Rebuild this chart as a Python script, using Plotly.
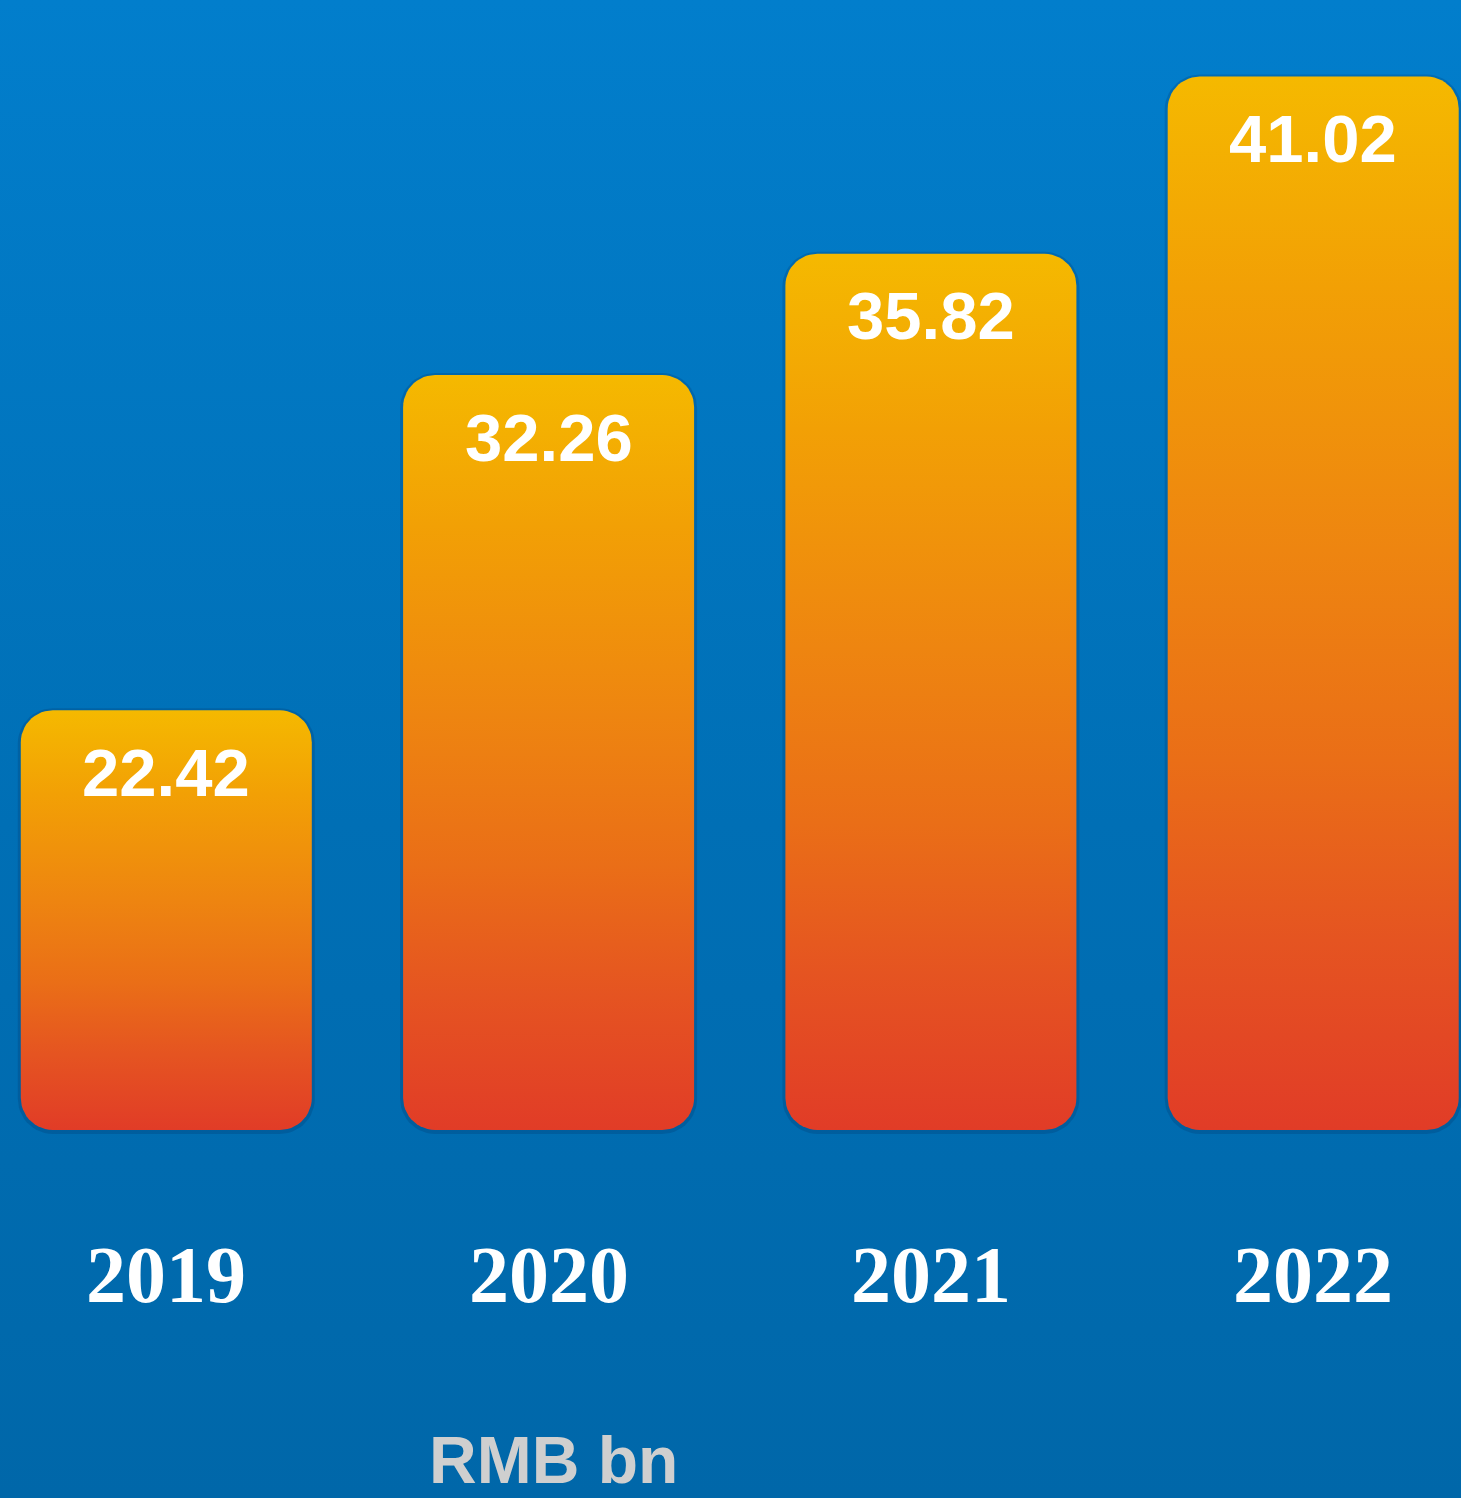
import numpy as np
import plotly.graph_objects as go

# ---- data -------------------------------------------------------------
years = ["2019", "2020", "2021", "2022"]
revenue_rmb_bn = [22.42, 32.26, 35.82, 41.02]
unit_label = "RMB bn"

# ---- canvas / scale settings -------------------------------------------
W, H = 1461, 1498
X_PX0, X_STEP = 166.3, 382.3          # pixel of first category, px per category
Y_FLOOR, Y_PX_FLOOR, Y_SCALE = 10.1, 1130.0, 34.07   # bar base value, its pixel row, px per unit

x_range = [-X_PX0 / X_STEP, (W - X_PX0) / X_STEP]
y_max = Y_FLOOR + Y_PX_FLOOR / Y_SCALE
y_range = [y_max - H / Y_SCALE, y_max]

BAR_W_PX = 291
CORNER_PX = 32
LABEL_OFFSET_PX = 62

BG_SCALE = [[0.0, "#0067A9"], [0.45, "#006FB5"], [1.0, "#027ECC"]]
BAR_SCALE = [[0.0, "#E13C27"], [0.18, "#E55421"], [0.35, "#EA6E17"],
             [0.55, "#EE8510"], [0.8, "#F2A005"], [1.0, "#F5B900"]]


def rounded_rect(xc, y0, y1, half_w, rx, ry, n=14):
    """Closed outline of a rectangle with rounded corners, in data units."""
    xs, ys = [], []
    corners = [
        (xc + half_w - rx, y1 - ry, 0, 90),
        (xc - half_w + rx, y1 - ry, 90, 180),
        (xc - half_w + rx, y0 + ry, 180, 270),
        (xc + half_w - rx, y0 + ry, 270, 360),
    ]
    for cx, cy, a0, a1 in corners:
        t = np.radians(np.linspace(a0, a1, n))
        xs.extend(cx + rx * np.cos(t))
        ys.extend(cy + ry * np.sin(t))
    xs.append(xs[0])
    ys.append(ys[0])
    return xs, ys


fig = go.Figure()

# background gradient panel
fig.add_trace(go.Scatter(
    x=[x_range[0], x_range[1], x_range[1], x_range[0], x_range[0]],
    y=[y_range[0], y_range[0], y_range[1], y_range[1], y_range[0]],
    mode="lines", line=dict(width=0), fill="toself",
    fillgradient=dict(type="vertical", colorscale=BG_SCALE),
    hoverinfo="skip", showlegend=False,
))

half_w = BAR_W_PX / 2 / X_STEP
rx = CORNER_PX / X_STEP
ry = CORNER_PX / Y_SCALE

for i, (yr, v) in enumerate(zip(years, revenue_rmb_bn)):
    # soft shadow under each bar
    sx, sy = rounded_rect(i, Y_FLOOR - 4 / Y_SCALE, v + 2 / Y_SCALE,
                          half_w + 3 / X_STEP, rx * 1.1, ry * 1.1)
    fig.add_trace(go.Scatter(
        x=sx, y=sy, mode="lines", line=dict(width=0), fill="toself",
        fillcolor="rgba(0,25,70,0.16)", hoverinfo="skip", showlegend=False,
    ))
    bx, by = rounded_rect(i, Y_FLOOR, v, half_w, rx, ry)
    fig.add_trace(go.Scatter(
        x=bx, y=by, mode="lines", line=dict(width=0), fill="toself",
        fillgradient=dict(type="vertical", colorscale=BAR_SCALE),
        name=yr, hoverinfo="skip", showlegend=False,
    ))
    fig.add_annotation(
        x=i, y=v, yshift=-LABEL_OFFSET_PX, text=f"{v:.2f}", showarrow=False,
        xanchor="center", yanchor="middle",
        font=dict(family="Liberation Sans", size=67, color="white", weight="bold"),
    )
    fig.add_annotation(
        x=i, y=1 - 1275 / H, yref="paper", text=yr, showarrow=False,
        xanchor="center", yanchor="middle",
        font=dict(family="Liberation Serif", size=80, color="white", weight="bold"),
    )

fig.add_annotation(
    x=553 / W, xref="paper", y=0, yref="paper", text=unit_label,
    showarrow=False, xanchor="center", yanchor="bottom", borderpad=0,
    font=dict(family="Liberation Sans", size=66, color="#CFCFCF", weight="bold"),
)

fig.update_layout(
    width=W, height=H, autosize=False,
    margin=dict(l=0, r=0, t=0, b=0),
    paper_bgcolor="#0070B6", plot_bgcolor="rgba(0,0,0,0)",
    xaxis=dict(range=x_range, visible=False, fixedrange=True),
    yaxis=dict(range=y_range, visible=False, fixedrange=True),
    showlegend=False,
)

fig.write_html("out.html")
